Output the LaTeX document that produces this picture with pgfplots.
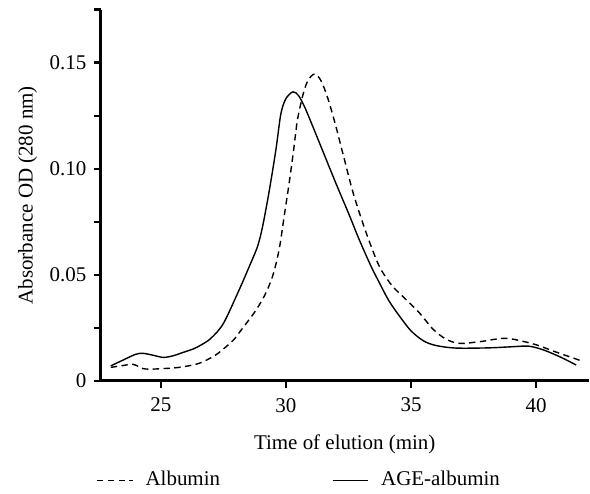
\documentclass[border=0pt]{standalone}
\usepackage{fontspec}
\setmainfont{Liberation Serif}
\usepackage{pgfplots}
\pgfplotsset{compat=1.18}
\begin{document}
\fontsize{10.5}{12.6}\selectfont
\begin{tikzpicture}
\begin{axis}[
  scale only axis, width=244.5pt, height=186pt,
  xmin=22.6, xmax=42.1, ymin=0, ymax=0.175,
  axis lines*=left,
  axis line style={line width=1.3pt},
  xtick={25,30,35,40}, xticklabels={25,30,35,40},
  ytick={0,0.05,0.1,0.15}, yticklabels={0,0.05,0.10,0.15},
  minor ytick={0.025,0.075,0.125,0.175},
  tick align=outside, major tick length=3.5pt, minor tick length=3.5pt,
  every tick/.style={line width=1.1pt, black},
  /pgf/number format/assume math mode=true,
  xticklabel style={yshift=-1.5pt},
  xlabel={Time of elution (min)}, ylabel={Absorbance OD (280 nm)},
  every axis x label/.style={at={(axis description cs:0.5,-0.172)}, anchor=center},
  every axis y label/.style={at={(axis description cs:-0.15,0.5)}, anchor=center, rotate=90},
  legend style={draw=none, fill=none, inner sep=0pt, legend columns=2,
    at={(axis description cs:-0.01,-0.268)}, anchor=west,
    /tikz/every odd column/.append style={column sep=4pt},
    /tikz/every even column/.append style={column sep=54pt}},
  legend image code/.code={\draw[#1] (0pt,0pt) -- (18pt,0pt);},
  legend cell align=left,
]
\addplot[black, line width=0.7pt, dash pattern=on 3.2pt off 2.2pt, smooth] coordinates {
(23.0,0.0063) (23.5,0.0072) (23.9,0.0077) (24.3,0.0057) (24.7,0.0055) (25.0,0.0057)
(25.5,0.0060) (26.0,0.0068) (26.55,0.0083) (27.2,0.0122) (27.87,0.0188) (28.14,0.0228)
(28.74,0.0322) (29.14,0.0400) (29.47,0.0494) (29.73,0.0620) (29.93,0.0776) (30.13,0.0933)
(30.31,0.1090) (30.46,0.1230) (30.7,0.1357) (30.9,0.1420) (31.15,0.1446) (31.4,0.1415)
(31.65,0.1340) (31.95,0.1220) (32.3,0.1060) (32.7,0.0880) (33.2,0.0700) (33.73,0.0540)
(34.25,0.0447) (34.79,0.0384) (35.32,0.0322) (35.88,0.0243) (36.4,0.0196) (36.95,0.0176)
(37.8,0.0185) (38.8,0.0200) (39.9,0.0173) (40.8,0.0135) (41.8,0.0094)
};
\addlegendentry{Albumin}
\addplot[black, line width=0.7pt, smooth] coordinates {
(23.0,0.0070) (23.5,0.0098) (24.0,0.0125) (24.3,0.0129) (24.7,0.0120) (25.1,0.0110)
(25.5,0.0118) (25.9,0.0134) (26.3,0.0150) (26.6,0.0168) (27.0,0.0200) (27.5,0.0270)
(28.14,0.0431) (28.54,0.0540) (28.87,0.0635) (29.07,0.0729) (29.34,0.0900) (29.6,0.1090)
(29.8,0.1260) (30.0,0.1330) (30.28,0.1362) (30.5,0.1345) (30.75,0.1290) (31.0,0.1220)
(31.5,0.1075) (32.0,0.0930) (32.5,0.0790) (32.93,0.0665) (33.4,0.0540) (33.73,0.0463)
(34.1,0.0380) (34.53,0.0306) (35.0,0.0235) (35.5,0.0188) (36.0,0.0166) (36.8,0.0154)
(38.1,0.0155) (39.0,0.0160) (39.7,0.0163) (40.3,0.0145) (41.0,0.0110) (41.6,0.0074)
};
\addlegendentry{AGE-albumin}
\coordinate (bbsw) at (rel axis cs:0,0);
\coordinate (bbne) at (rel axis cs:1,1);
\end{axis}
\path ([shift={(-50.5pt,-54.15pt)}]bbsw) rectangle ([shift={(0pt,4.8pt)}]bbne);
\end{tikzpicture}
\end{document}
